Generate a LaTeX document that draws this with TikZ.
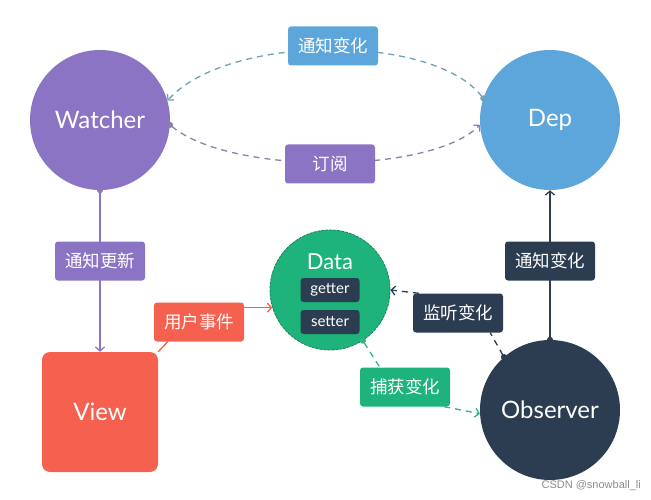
\documentclass[tikz,border=0pt]{standalone}
\usepackage{fontspec}
\setmainfont{Lato}
\newfontfamily\cjk{Noto Sans CJK SC}
\newfontfamily\wmfont{Liberation Sans}
\usetikzlibrary{arrows.meta}
\definecolor{cpurple}{HTML}{8C74C4}
\definecolor{cblue}{HTML}{5DA6DC}
\definecolor{cgreen}{HTML}{1DB37A}
\definecolor{cgreenl}{HTML}{2DB67E}
\definecolor{cnavy}{HTML}{2C3D51}
\definecolor{cred}{HTML}{F5604F}
\definecolor{carcblue}{HTML}{6FA1B8}
\definecolor{carcpurple}{HTML}{8C7FA8}
\begin{document}
\begin{tikzpicture}[x=1pt,y=-1pt,
  big/.style={circle, minimum size=140pt, inner sep=0pt, text=white, font=\fontsize{24}{26}\selectfont},
  lbl/.style={rounded corners=3pt, minimum width=90pt, minimum height=39pt, inner sep=0pt, text=white, font=\cjk\fontsize{17.5}{19}\selectfont},
  smallbox/.style={rounded corners=3pt, fill=cnavy, minimum width=59pt, minimum height=24pt, inner sep=0pt, text=white, font=\fontsize{15}{17}\selectfont},
  conn/.style={line width=1.3pt, {Circle[length=6pt]}-{Straight Barb[length=4pt,width=9pt]}, shorten <=-3pt},
  plainconn/.style={line width=1.3pt},
  arrconn/.style={line width=1.3pt, -{Straight Barb[length=4pt,width=9pt]}},
  dsh/.style={dash pattern=on 6pt off 5pt}
]
\useasboundingbox (0,0) rectangle (651,500);
\fill[white] (0,0) rectangle (651,500);

% main nodes
\node[big, fill=cpurple] (watcher) at (100,120) {Watcher};
\node[big, fill=cblue] (dep) at (550,120) {Dep};
\node[big, fill=cnavy] (observer) at (550,410) {Observer};
\node[fill=cred, rounded corners=8pt, minimum width=116pt, minimum height=120pt, inner sep=0pt, text=white, font=\fontsize{24}{26}\selectfont] (view) at (100,412) {View};
\node[circle, fill=cgreen, draw=cgreen!75!black, dash pattern=on 3pt off 1pt, line width=0.8pt, minimum size=120pt, inner sep=0pt] (data) at (330,290) {};
\node[text=white, font=\fontsize{22}{24}\selectfont, inner sep=0pt] (datat) at (330,262) {Data};
\node[smallbox] (getter) at (330,290) {getter};
\node[smallbox] (setter) at (330,322) {setter};

% connectors
\draw[conn, dsh, carcblue] (dep.162) .. controls +(-50,-65) and +(60,-67) .. (watcher.16);
\draw[conn, dsh, carcpurple] (watcher.-4) .. controls +(60,50) and +(-50,50) .. (dep.184);
\draw[conn, cpurple] (watcher.south) -- (view.north);
\draw[conn, cnavy] (observer.north) -- (dep.south);

% labels
\node[lbl, fill=cblue] (l1) at (333,46) {通知变化};
\node[lbl, fill=cpurple] (l2) at (330,164) {订阅};
\node[lbl, fill=cpurple] (l3) at (100,261) {通知更新};
\node[lbl, fill=cnavy] (l4) at (550,261) {通知变化};
\node[lbl, fill=cred] (ue) at (199,322) {用户事件};
\node[lbl, fill=cnavy] (ml) at (458,313) {监听变化};
\node[lbl, fill=cgreen] (cb) at (405,387) {捕获变化};

\draw[plainconn, cred] (view.north east) -- ([xshift=14pt]ue.south west);
\draw[arrconn, cred] (ue.east |- data.197) -- (data.197);

\draw[plainconn, dsh, cnavy, {Circle[length=6pt]}-, shorten <=-3pt] (observer.131) -- ([xshift=-13pt]ml.south east);
\draw[arrconn, dsh, cnavy] ([xshift=6pt]ml.north west) -- (data.east);

\draw[plainconn, dsh, cgreenl, {Circle[length=6pt]}-, shorten <=-3pt] (data.-57) -- ([xshift=20pt]cb.north west);
\draw[arrconn, dsh, cgreenl] ([xshift=-6pt]cb.south east) -- (observer.183);

\node[text=black!45, font=\wmfont\fontsize{11}{12}\selectfont, anchor=east, inner sep=0pt] (wm) at (641,486) {CSDN @snowball\_li};
\end{tikzpicture}
\end{document}
